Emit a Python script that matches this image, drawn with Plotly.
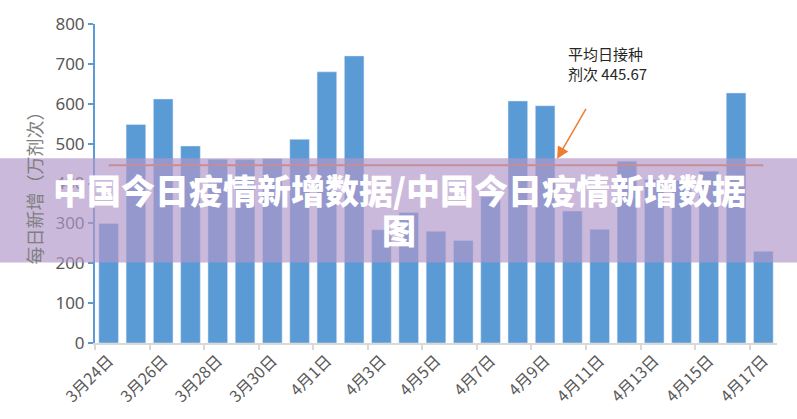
import plotly.graph_objects as go

dates = ["3月24日", "3月25日", "3月26日", "3月27日", "3月28日", "3月29日", "3月30日",
         "3月31日", "4月1日", "4月2日", "4月3日", "4月4日", "4月5日", "4月6日",
         "4月7日", "4月8日", "4月9日", "4月10日", "4月11日", "4月12日", "4月13日",
         "4月14日", "4月15日", "4月16日", "4月17日"]
doses = [300, 548, 612, 494, 461, 460, 462, 511, 680, 720, 284, 327, 280, 257,
         367, 607, 595, 331, 285, 456, 410, 408, 431, 627, 230]
avg_value = 445.67
avg_label = "平均日接种<br>剂次 445.67"
y_title = "每日新增（万剂次）"
banner_line1 = "中国今日疫情新增数据/中国今日疫情新增数据"
banner_line2 = "图"

W, H = 797, 419
L, R, T, B = 95, 20, 22, 76
PW, PH = W - L - R, H - T - B

def px(x):
    return (x - L) / PW

def py(y):
    return (H - B - y) / PH

fig = go.Figure()
fig.add_trace(go.Bar(x=dates, y=doses, marker_color="#5B9BD5", showlegend=False))
fig.add_trace(go.Scatter(x=dates, y=[avg_value] * len(dates), mode="lines",
                         line=dict(color="#ED7D31", width=2), showlegend=False))

fig.update_layout(
    width=W, height=H,
    margin=dict(l=L, r=R, t=T, b=B),
    plot_bgcolor="white", paper_bgcolor="white",
    bargap=0.28,
    font=dict(family="Noto Sans CJK SC, Noto Sans", color="#595959"),
    xaxis=dict(type="category", tickmode="linear", tick0=0, dtick=2,
               tickson="boundaries", ticks="outside", ticklen=5, tickcolor="#D9D9D9",
               tickwidth=1.5, showline=True, linecolor="#D9D9D9", linewidth=2,
               tickangle=-45, tickfont=dict(size=16, color="#595959"),
               showgrid=False, range=[-0.5, 24.5]),
    yaxis=dict(range=[0, 800], dtick=100, ticks="outside", ticklen=5,
               tickcolor="#5B9BD5", tickwidth=1.5, showline=True,
               linecolor="#5B9BD5", linewidth=2, showgrid=False, zeroline=False,
               tickfont=dict(size=17, color="#595959", family="Noto Sans"),
               title=dict(text=y_title, font=dict(size=18, color="#7f7f7f"), standoff=8)),
)

# average annotation text
fig.add_annotation(xref="paper", yref="paper", x=px(566), y=py(62), text=avg_label,
                   showarrow=False, xanchor="left", yanchor="middle", align="left",
                   font=dict(size=15, color="#262626", family="Noto Sans CJK SC"))
# arrow
fig.add_annotation(xref="x", yref="y", x=16.44, y=462, text=" ", showarrow=True,
                   ax=30, ay=-52, arrowcolor="#ED7D31", arrowwidth=1.5,
                   arrowhead=2, arrowsize=1.6, font=dict(size=1))

# translucent banner overlay
fig.add_shape(type="rect", xref="paper", yref="paper", x0=px(0), x1=px(W),
              y0=py(262), y1=py(157), fillcolor="rgba(177,151,202,0.67)",
              line=dict(width=0), layer="above")
banner_font = dict(size=34, color="white",
                   family="Noto Sans CJK SC Black, Noto Sans CJK SC Heavy, Noto Sans CJK SC")
fig.add_annotation(xref="paper", yref="paper", x=px(399), y=py(189), text="<b>" + banner_line1 + "</b>",
                   showarrow=False, xanchor="center", yanchor="middle", font=banner_font)
fig.add_annotation(xref="paper", yref="paper", x=px(399), y=py(229), text="<b>" + banner_line2 + "</b>",
                   showarrow=False, xanchor="center", yanchor="middle", font=banner_font)

fig.write_html("out.html")
